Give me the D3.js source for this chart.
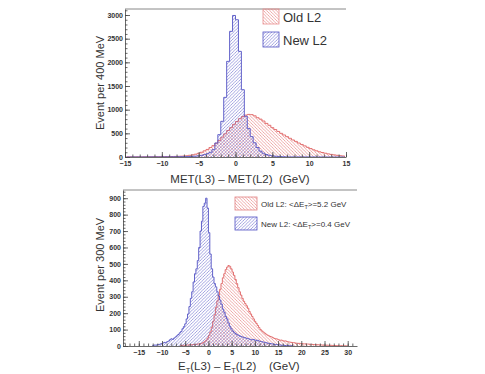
<!DOCTYPE html>
<html>
<head>
<meta charset="utf-8">
<script src="https://cdn.jsdelivr.net/npm/d3@7"></script>
<style>
  body { margin: 0; background: #fff; }
  svg { display: block; }
  .tick text { font-family: "Liberation Sans", Arial, sans-serif; font-weight: bold; font-size: 7px; fill: #333; }
  .tick line { stroke: #444; stroke-width: 0.8; }
  .domain { stroke: #444; stroke-width: 0.8; }
  .title { font-family: "Liberation Sans", Arial, sans-serif; fill: #333; }
</style>
</head>
<body>
<svg id="chart" width="485" height="374"></svg>
<script>
// top panel: 400 MeV bins, first edge at -14.8
const topStart = -14.8;
const topBin = 0.4;
const topOld = [2, 3, 2, 4, 3, 3, 4, 5, 4, 5, 6, 6,
  7, 8, 9, 10, 12, 14, 17, 21, 26, 36,
  46, 60, 78, 100, 130, 160, 200, 240, 290, 350,
  420, 490, 560, 620, 690, 750, 810, 855, 885, 900,
  895, 870, 830, 800, 760, 710, 670, 620, 580, 540,
  500, 465, 430, 395, 360, 330, 295, 265, 235, 205,
  178, 152, 130, 110, 95, 80, 66, 55, 45, 36,
  28, 22];
const topNew = [0, 0, 1, 0, 1, 0, 1, 1, 2, 1, 2, 2, 3, 3, 4, 4, 5, 6, 7, 8, 9,
  11, 14, 18, 25, 35, 50, 70, 100, 155, 296, 472, 754, 1260, 2021, 2655, 2990,
  2900, 2232, 1422, 860, 600, 430, 300, 200, 125, 80, 52, 36, 25, 17, 12, 8, 5, 3,
  2, 2, 1, 2, 1, 1, 1, 0, 1, 0, 0, 1, 0, 0, 0, 0, 0, 0, 0];

// bottom panel: 300 MeV bins
const botBin = 0.3;
const botNewStart = -12.0;
const botNew = [4, 6, 5, 8, 9, 12, 14, 18, 22, 20,
  26, 30, 38, 44, 40, 48, 55, 62, 70, 80,
  88, 105, 118, 135, 165, 195, 240, 290, 330, 390,
  440, 470, 520, 600, 700, 760, 850, 870, 900, 840,
  690, 560, 470, 420, 380, 360, 330, 305, 280, 255,
  225, 205, 180, 165, 140, 120, 105, 92, 84, 76,
  70, 66, 62, 58, 55, 52, 50, 47, 45, 42,
  40, 38, 40, 36, 34, 35, 30, 28, 26, 24,
  22, 20, 18, 16, 15, 13, 12, 10, 9, 8,
  7, 6, 5, 5, 4, 3, 3, 2, 2, 1, 1];
const botOldStart = -6.0;
const botOld = [3, 4, 4, 5, 6, 6, 7, 8, 8, 9,
  10, 11, 12, 13, 15, 18, 22, 28, 35, 48,
  65, 85, 115, 150, 190, 235, 275, 310, 345, 380,
  415, 440, 465, 480, 490, 485, 470, 450, 430, 405,
  380, 355, 330, 310, 290, 272, 258, 245, 230, 210,
  195, 180, 165, 150, 138, 125, 112, 100, 92, 85,
  78, 72, 66, 62, 58, 55, 50, 46, 44, 42,
  38, 35, 36, 32, 30, 31, 27, 25, 24, 22,
  21, 20, 18, 17, 16, 16, 15, 14, 13, 13,
  12, 12, 11, 10, 10, 9, 9, 8, 8, 7,
  7, 6, 6, 5, 5, 5, 4, 4, 4, 3,
  3, 3, 2, 2, 2, 2, 1, 1, 1, 1];

const topXTicks = [-15, -10, -5, 0, 5, 10, 15];
const topYTicks = [0, 500, 1000, 1500, 2000, 2500, 3000];
const botXTicks = [-15, -10, -5, 0, 5, 10, 15, 20, 25, 30];
const botYTicks = [0, 100, 200, 300, 400, 500, 600, 700, 800, 900];

const svg = d3.select("#chart");
const defs = svg.append("defs");

const redLine = "#e06464";
const blueLine = "#5252c4";

const hatch = (id, color, dir) => {
    const p = defs.append("pattern")
        .attr("id", id)
        .attr("patternUnits", "userSpaceOnUse")
        .attr("width", 3.2).attr("height", 3.2);
    const d = dir === "back"
        ? "M0,0 L3.2,3.2 M-1,2.2 L1,4.2 M2.2,-1 L4.2,1"
        : "M0,3.2 L3.2,0 M-1,1 L1,-1 M2.2,4.2 L4.2,2.2";
    p.append("path").attr("d", d)
        .attr("stroke", color).attr("stroke-width", 0.7).attr("fill", "none");
};
hatch("hatchOld", "rgba(225,100,100,0.8)", "back");
hatch("hatchNew", "rgba(90,90,200,0.8)", "fwd");

const stepPath = (x, y, start, w, vals) => {
    const edge = i => Math.round((start + i * w) * 100) / 100;
    const pts = [[edge(0), 0]];
    vals.forEach((v, i) => {
        pts.push([edge(i), v]);
        pts.push([edge(i + 1), v]);
    });
    pts.push([edge(vals.length), 0]);
    return d3.line().x(d => x(d[0])).y(d => y(d[1]))(pts);
};

const panel = (cfg) => {
    const g = svg.append("g");
    const x = d3.scaleLinear().domain(cfg.xDomain).range([cfg.left, cfg.right]);
    const y = d3.scaleLinear().domain(cfg.yDomain).range([cfg.bottom, cfg.top]);

    defs.append("clipPath").attr("id", cfg.id)
        .append("rect")
        .attr("x", cfg.left).attr("y", cfg.top)
        .attr("width", cfg.right - cfg.left).attr("height", cfg.bottom - cfg.top);

    const plot = g.append("g").attr("clip-path", `url(#${cfg.id})`);
    cfg.hists.forEach(h => {
        plot.append("path")
            .attr("d", stepPath(x, y, h.start, h.bin, h.vals))
            .attr("fill", `url(#${h.pattern})`)
            .attr("stroke", h.color)
            .attr("stroke-width", 0.9);
    });

    // top frame line
    g.append("line")
        .attr("x1", cfg.left).attr("x2", cfg.right)
        .attr("y1", cfg.top).attr("y2", cfg.top)
        .attr("stroke", "#888").attr("stroke-width", 1);

    // minor ticks
    g.append("g")
        .attr("transform", `translate(${cfg.left},0)`)
        .call(d3.axisLeft(y).tickValues(cfg.yMinor).tickSize(-2.5).tickFormat(""))
        .call(a => a.select(".domain").remove());
    g.append("g")
        .attr("transform", `translate(0,${cfg.bottom})`)
        .call(d3.axisBottom(x).tickValues(cfg.xMinor).tickSize(-2.5).tickFormat(""))
        .call(a => a.select(".domain").remove());

    g.append("g")
        .attr("transform", `translate(${cfg.left},0)`)
        .call(d3.axisLeft(y).tickValues(cfg.yTicks).tickFormat(d3.format("d"))
            .tickSizeInner(-5).tickSizeOuter(0).tickPadding(2));
    g.append("g")
        .attr("transform", `translate(0,${cfg.bottom})`)
        .call(d3.axisBottom(x).tickValues(cfg.xTicks).tickFormat(d3.format("d"))
            .tickSizeInner(-5).tickSizeOuter(0).tickPadding(4));

    return { g, x, y };
};

const topPanel = panel({
    id: "clipTop",
    left: 125, right: 346, top: 9, bottom: 157,
    xDomain: [-15, 15], yDomain: [0, 3127],
    xTicks: topXTicks, yTicks: topYTicks,
    xMinor: d3.range(-15, 16, 1), yMinor: d3.range(0, 3101, 100),
    hists: [
        { start: topStart, bin: topBin, vals: topOld, pattern: "hatchOld", color: redLine },
        { start: topStart, bin: topBin, vals: topNew, pattern: "hatchNew", color: blueLine }
    ]
});

const botPanel = panel({
    id: "clipBot",
    left: 123, right: 357, top: 190, bottom: 346,
    xDomain: [-18.4, 32], yDomain: [0, 950],
    xTicks: botXTicks, yTicks: botYTicks,
    xMinor: d3.range(-18, 32, 1), yMinor: d3.range(0, 941, 20),
    hists: [
        { start: botOldStart, bin: botBin, vals: botOld, pattern: "hatchOld", color: redLine },
        { start: botNewStart, bin: botBin, vals: botNew, pattern: "hatchNew", color: blueLine }
    ]
});

// axis titles
svg.append("text").attr("class", "title")
    .attr("transform", "translate(104,83) rotate(-90)")
    .attr("text-anchor", "middle").attr("font-size", 11)
    .text("Event per 400 MeV");
svg.append("text").attr("class", "title")
    .attr("transform", "translate(104,265) rotate(-90)")
    .attr("text-anchor", "middle").attr("font-size", 11)
    .text("Event per 300 MeV");

svg.append("text").attr("class", "title")
    .attr("x", 240).attr("y", 183)
    .attr("text-anchor", "middle").attr("font-size", 11.5)
    .attr("xml:space", "preserve")
    .text("MET(L3) – MET(L2)  (GeV)");

const bx = svg.append("text").attr("class", "title")
    .attr("x", 178).attr("y", 370)
    .attr("font-size", 11.5)
    .attr("xml:space", "preserve");
bx.append("tspan").text("E");
bx.append("tspan").attr("font-size", 7.5).attr("dy", 2.5).text("T");
bx.append("tspan").attr("dy", -2.5).text("(L3) – E");
bx.append("tspan").attr("font-size", 7.5).attr("dy", 2.5).text("T");
bx.append("tspan").attr("dy", -2.5).text("(L2)    (GeV)");

// legends
const legTop = [
    { label: "Old L2", pattern: "hatchOld", color: "#e89090", y: 9 },
    { label: "New L2", pattern: "hatchNew", color: blueLine, y: 32 }
];
legTop.forEach(l => {
    svg.append("rect")
        .attr("x", 263).attr("y", l.y).attr("width", 16).attr("height", 15)
        .attr("fill", `url(#${l.pattern})`)
        .attr("stroke", l.color).attr("stroke-width", 0.8);
    svg.append("text").attr("class", "title")
        .attr("x", 283).attr("y", l.y + 13)
        .attr("font-size", 13).attr("fill", "#222")
        .text(l.label);
});

const legBot = [
    { pre: "Old L2: <ΔE", post: ">=5.2 GeV", pattern: "hatchOld", color: "#e08080", y: 197 },
    { pre: "New L2: <ΔE", post: ">=0.4 GeV", pattern: "hatchNew", color: blueLine, y: 217 }
];
legBot.forEach(l => {
    svg.append("rect")
        .attr("x", 235).attr("y", l.y).attr("width", 22).attr("height", 13)
        .attr("fill", `url(#${l.pattern})`)
        .attr("stroke", l.color).attr("stroke-width", 0.8);
    const t = svg.append("text").attr("class", "title")
        .attr("x", 261).attr("y", l.y + 10)
        .attr("font-size", 8).attr("fill", "#222");
    t.append("tspan").text(l.pre);
    t.append("tspan").attr("font-size", 5.5).attr("dy", 1.5).text("T");
    t.append("tspan").attr("dy", -1.5).text(l.post);
});
</script>
</body>
</html>
